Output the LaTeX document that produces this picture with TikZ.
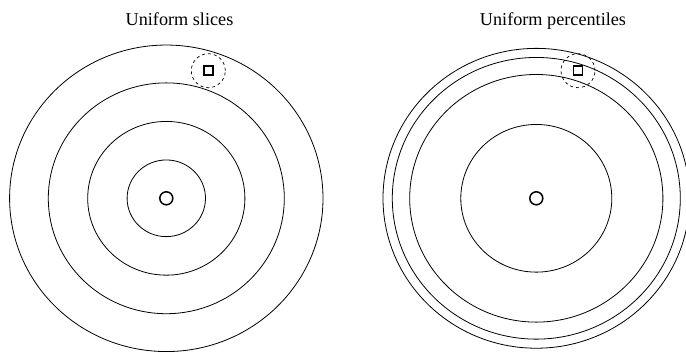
\documentclass[tikz,border=0pt]{standalone}
\usepackage{fontspec}
\setmainfont{Liberation Serif}
\usetikzlibrary{shapes}

\begin{document}
\begin{tikzpicture}[
    x=1pt, y=-1pt,
    ring/.style={draw, line width=0.8pt},
    centre/.style={circle, draw, line width=1.5pt, minimum size=13pt, inner sep=0pt},
    sample/.style={rectangle, draw, line width=1.5pt, minimum size=9pt, inner sep=0pt},
    halo/.style={circle, draw, dashed, line width=0.7pt, minimum size=34pt, inner sep=0pt},
    title/.style={anchor=base, font=\fontsize{18.2}{20}\selectfont}
]
    \useasboundingbox (0,0) rectangle (686,352);
    \clip (0,0) rectangle (686,352);

    % Titles
    \node[title] (t1) at (179.5,26) {Uniform slices};
    \node[title] (t2) at (553,26) {Uniform percentiles};

    % Left disc
    \node[centre] (c1) at (166.3,198.3) {};
    \foreach \r in {39.2,78.6,118,156.7}
        \draw[ring] (c1.center) circle[x radius=\r pt, y radius=0.978*\r pt];
    \node[sample] (s1) at (208.3,70.7) {};
    \node[halo] (h1) at (s1.center) {};

    % Right disc
    \node[centre] (c2) at (536.3,198.3) {};
    \foreach \r in {75.5,126.6,144,153.3}
        \draw[ring] (c2.center) circle[x radius=\r pt, y radius=0.978*\r pt];
    \node[sample] (s2) at (578,70.7) {};
    \node[halo] (h2) at (s2.center) {};
\end{tikzpicture}
\end{document}
